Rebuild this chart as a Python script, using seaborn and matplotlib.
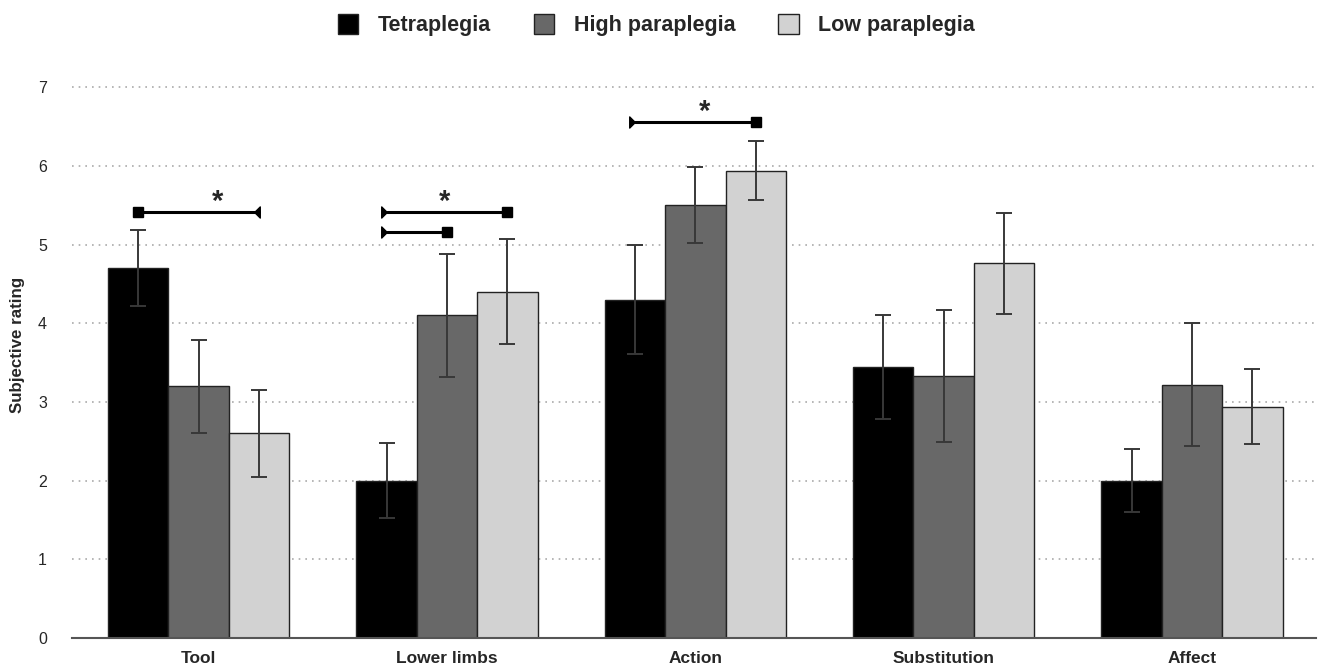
import matplotlib
matplotlib.use("Agg")
import matplotlib.pyplot as plt
import seaborn as sns
import pandas as pd
import numpy as np
from matplotlib.patches import Patch
from matplotlib.path import Path

categories = ["Tool", "Lower limbs", "Action", "Substitution", "Affect"]
groups = ["Tetraplegia", "High paraplegia", "Low paraplegia"]
tetra = [4.70, 2.00, 4.30, 3.44, 2.00]
tetra_err = [0.48, 0.48, 0.69, 0.66, 0.40]
high = [3.20, 4.10, 5.50, 3.33, 3.22]
high_err = [0.59, 0.78, 0.48, 0.84, 0.78]
low = [2.60, 4.40, 5.94, 4.76, 2.94]
low_err = [0.55, 0.67, 0.37, 0.64, 0.48]
colors = ["#000000", "#686868", "#d2d2d2"]

# significance brackets: (category, group_from, group_to, y, star, star position fraction)
sig = [("Tool", 0, 2, 5.41, True, 0.66), ("Lower limbs", 0, 2, 5.41, True, 0.48),
       ("Lower limbs", 0, 1, 5.16, False, 0.5), ("Action", 0, 2, 6.56, True, 0.58)]

sns.set_style("white")
plt.rcParams['font.family'] = ['Liberation Sans', 'DejaVu Sans']

rows = []
for g, vals, errs in zip(groups, [tetra, high, low], [tetra_err, high_err, low_err]):
    for c, v, e in zip(categories, vals, errs):
        rows.append(dict(category=c, group=g, value=v, err=e))
df = pd.DataFrame(rows)

fig = plt.figure(figsize=(13.18, 6.68), dpi=100)
ax = fig.add_axes([0.0546, 0.0449, 0.944, 0.8777])
sns.barplot(data=df, x="category", y="value", hue="group", order=categories,
            hue_order=groups, palette=colors, width=0.73, gap=0, errorbar=None,
            edgecolor="#222222", linewidth=1.0, ax=ax, legend=False)

# error bars
xpos = {}
for i, g in enumerate(groups):
    bars = ax.patches[i * len(categories):(i + 1) * len(categories)]
    for c, b in zip(categories, bars):
        xpos[(c, i)] = b.get_x() + b.get_width() / 2
    sub = df[df.group == g].set_index("category").loc[categories]
    ax.errorbar([xpos[(c, i)] for c in categories], sub["value"], yerr=sub["err"],
                fmt="none", ecolor="#383838", elinewidth=1.4, capsize=5.5, capthick=1.4, zorder=5)

tri_right = Path([(-0.5, -1.0), (0.5, 0.0), (-0.5, 1.0), (-0.5, -1.0)],
                 [Path.MOVETO, Path.LINETO, Path.LINETO, Path.CLOSEPOLY])
tri_left = Path([(0.5, -1.0), (-0.5, 0.0), (0.5, 1.0), (0.5, -1.0)],
                [Path.MOVETO, Path.LINETO, Path.LINETO, Path.CLOSEPOLY])

for c, g0, g1, y, star, frac in sig:
    x0, x1 = xpos[(c, g0)], xpos[(c, g1)]
    ax.plot([x0, x1], [y, y], color="black", lw=2.2, zorder=6, clip_on=False)
    if c == "Tool":
        ax.plot(x0, y, marker="s", ms=7.5, color="black", clip_on=False, zorder=7)
        ax.plot(x1 - 0.01, y, marker=tri_left, ms=8, color="black", clip_on=False, zorder=7)
    else:
        ax.plot(x0 - 0.01, y, marker=tri_right, ms=8, color="black", clip_on=False, zorder=7)
        ax.plot(x1, y, marker="s", ms=7.5, color="black", clip_on=False, zorder=7)
    if star:
        ax.text(x0 + (x1 - x0) * frac, y - 0.05, "*", ha="center", va="bottom",
                fontsize=21, fontweight="bold")

ax.set_ylim(0, 7.45)
ax.set_xlim(-0.51, 4.5)
ax.set_yticks(range(0, 8))
ax.yaxis.grid(True, linestyle=(0, (1, 3)), color="#aaaaaa", lw=1.2)
ax.set_axisbelow(True)
for s in ["top", "right", "left"]:
    ax.spines[s].set_visible(False)
ax.spines["bottom"].set_color("#555555")
ax.spines["bottom"].set_linewidth(1.5)
ax.tick_params(axis="y", length=0, labelsize=11.5, pad=18)
ax.tick_params(axis="x", length=0, labelsize=12.5, pad=9)
for t in ax.get_xticklabels():
    t.set_fontweight("bold")
ax.set_xlabel("")
ax.set_ylabel("Subjective rating", fontsize=12.2, fontweight="bold", labelpad=9)

handles = [Patch(facecolor=col, edgecolor="#222222", label=g) for col, g in zip(colors, groups)]
fig.legend(handles=handles, loc="center", bbox_to_anchor=(0.498, 0.963), ncol=3,
           frameon=False, prop=dict(weight="bold", size=15.5), handlelength=0.95,
           handleheight=1.05, columnspacing=2.0, handletextpad=0.9)

fig.savefig("out.png", dpi=100)
